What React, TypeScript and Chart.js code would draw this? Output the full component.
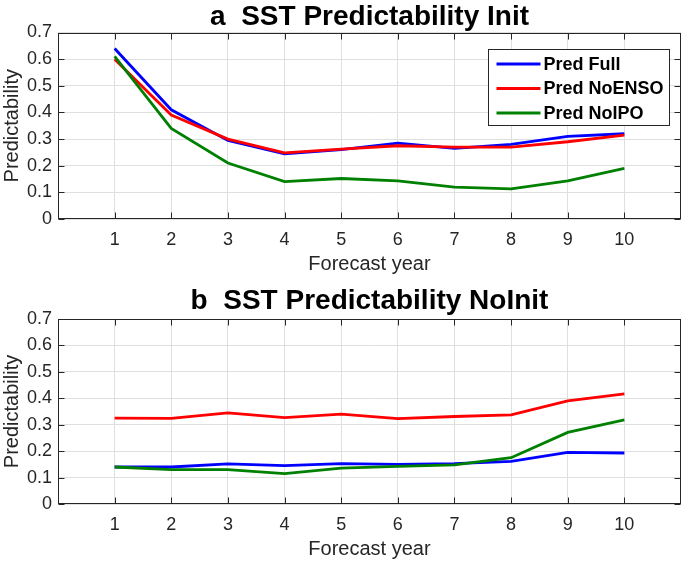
import React, { useEffect, useRef } from "react";
import { Chart, registerables } from "chart.js";

Chart.register(...registerables);

// ---- data ----
const years = [1, 2, 3, 4, 5, 6, 7, 8, 9, 10];
const yTickValues = [0, 0.1, 0.2, 0.3, 0.4, 0.5, 0.6, 0.7];
const seriesNames = ["Pred Full", "Pred NoENSO", "Pred NoIPO"];

const initFull = [0.64, 0.41, 0.295, 0.245, 0.26, 0.285, 0.265, 0.28, 0.31, 0.32];
const initNoENSO = [0.6, 0.39, 0.3, 0.248, 0.262, 0.275, 0.27, 0.27, 0.29, 0.315];
const initNoIPO = [0.61, 0.34, 0.21, 0.14, 0.152, 0.143, 0.12, 0.113, 0.143, 0.19];

const noInitFull = [0.14, 0.14, 0.152, 0.145, 0.153, 0.15, 0.153, 0.161, 0.195, 0.193];
const noInitNoENSO = [0.325, 0.324, 0.345, 0.327, 0.34, 0.323, 0.331, 0.337, 0.39, 0.417];
const noInitNoIPO = [0.14, 0.13, 0.13, 0.115, 0.136, 0.142, 0.148, 0.175, 0.271, 0.318];

const titleA = "a  SST Predictability Init";
const titleB = "b  SST Predictability NoInit";
const xTitle = "Forecast year";
const yTitle = "Predictability";

// ---- styles ----
const FONT = "'Liberation Sans', Arial, Helvetica, sans-serif";
const AXIS = "#262626";
const GRID = "#dfdfdf";
const COLORS = ["#0000ff", "#ff0000", "#008000"];
const LINE_W = 2.8;

const frameTicks = {
  id: "frameTicks",
  afterDraw(chart: any) {
    const { ctx, chartArea: a, scales } = chart;
    const L = Math.round(a.left) + 0.5;
    const R = Math.round(a.right) - 0.5;
    const T = Math.round(a.top) + 0.5;
    const B = Math.round(a.bottom) - 0.5;
    const tl = 6;
    ctx.save();
    ctx.strokeStyle = AXIS;
    ctx.lineWidth = 1;
    ctx.beginPath();
    for (const t of scales.x.ticks) {
      const px = Math.round(scales.x.getPixelForValue(t.value)) + 0.5;
      ctx.moveTo(px, B);
      ctx.lineTo(px, B - tl);
      ctx.moveTo(px, T);
      ctx.lineTo(px, T + tl);
    }
    for (const t of scales.y.ticks) {
      const py = Math.round(scales.y.getPixelForValue(t.value)) + 0.5;
      ctx.moveTo(L, py);
      ctx.lineTo(L + tl, py);
      ctx.moveTo(R, py);
      ctx.lineTo(R - tl, py);
    }
    ctx.stroke();
    ctx.strokeRect(L, T, R - L, B - T);
    ctx.restore();
  },
};

const boxLegend = {
  id: "boxLegend",
  afterDatasetsDraw(chart: any, _args: any, opts: any) {
    if (!opts || !opts.show) return;
    const { ctx, chartArea: a } = chart;
    const w = 181;
    const h = 76;
    const left = Math.round(a.right - 12 - w) + 0.5;
    const top = Math.round(a.top + 16) + 0.5;
    ctx.save();
    ctx.fillStyle = "#ffffff";
    ctx.fillRect(left, top, w, h);
    ctx.strokeStyle = AXIS;
    ctx.lineWidth = 1;
    ctx.strokeRect(left, top, w, h);
    ctx.font = `bold 18px ${FONT}`;
    ctx.textBaseline = "middle";
    ctx.textAlign = "left";
    chart.data.datasets.forEach((ds: any, i: number) => {
      const y = top + 14.5 + i * 24.5;
      ctx.strokeStyle = ds.borderColor;
      ctx.lineWidth = 3;
      ctx.beginPath();
      ctx.moveTo(left + 8, y);
      ctx.lineTo(left + 52, y);
      ctx.stroke();
      ctx.fillStyle = "#000000";
      ctx.fillText(ds.label, left + 55, y + 1);
    });
    ctx.restore();
  },
};

function makeConfig(title: string, series: number[][], titlePad: any, bottomPad: number, showLegend: boolean): any {
  return {
    type: "line",
    data: {
      datasets: series.map((vals, i) => ({
        label: seriesNames[i],
        data: years.map((yr, j) => ({ x: yr, y: vals[j] })),
        borderColor: COLORS[i],
        backgroundColor: COLORS[i],
        borderWidth: LINE_W,
        pointRadius: 0,
        tension: 0,
        fill: false,
        order: 3 - i,
      })),
    },
    options: {
      responsive: false,
      animation: false,
      layout: { padding: { left: 0, right: 4, top: 0, bottom: bottomPad } },
      plugins: {
        legend: { display: false },
        tooltip: { enabled: false },
        title: {
          display: true,
          text: title,
          fullSize: false,
          color: "#000000",
          font: { family: FONT, size: 28, weight: "bold", lineHeight: 1 },
          padding: titlePad,
        },
        boxLegend: { show: showLegend },
      },
      scales: {
        x: {
          type: "linear",
          min: 0,
          max: 11,
          afterBuildTicks: (s: any) => {
            s.ticks = years.map((v) => ({ value: v }));
          },
          ticks: {
            color: AXIS,
            padding: 10,
            font: { family: FONT, size: 18 },
            maxRotation: 0,
            autoSkip: false,
          },
          grid: { color: GRID, drawTicks: false },
          border: { display: false },
          title: {
            display: true,
            text: xTitle,
            color: AXIS,
            font: { family: FONT, size: 20 },
            padding: { top: -8, bottom: 0 },
          },
        },
        y: {
          type: "linear",
          min: 0,
          max: 0.7,
          afterBuildTicks: (s: any) => {
            s.ticks = yTickValues.map((v) => ({ value: v }));
          },
          afterFit: (s: any) => {
            s.width = 58;
          },
          ticks: {
            color: AXIS,
            padding: 6,
            font: { family: FONT, size: 18 },
            callback: (v: any) => String(Number(Number(v).toFixed(1))),
          },
          grid: { color: GRID, drawTicks: false },
          border: { display: false },
          title: {
            display: true,
            text: yTitle,
            color: AXIS,
            font: { family: FONT, size: 20 },
            padding: { top: 0, bottom: 0 },
          },
        },
      },
    },
    plugins: [frameTicks, boxLegend],
  };
}

export default function App() {
  const ref1 = useRef<HTMLCanvasElement>(null);
  const ref2 = useRef<HTMLCanvasElement>(null);

  useEffect(() => {
    const c1 = new Chart(
      ref1.current as HTMLCanvasElement,
      makeConfig(titleA, [initFull, initNoENSO, initNoIPO], { top: 3.5, bottom: 1 }, 5.4, true)
    );
    const c2 = new Chart(
      ref2.current as HTMLCanvasElement,
      makeConfig(titleB, [noInitFull, noInitNoENSO, noInitNoIPO], { top: 5, bottom: 4 }, 2.4, false)
    );
    return () => {
      c1.destroy();
      c2.destroy();
    };
  }, []);

  return (
    <div style={{ position: "fixed", left: 0, top: 0, width: 685, height: 564, background: "#ffffff" }}>
      <canvas ref={ref1} width={685} height={282} style={{ position: "absolute", left: 0, top: 0 }} />
      <canvas ref={ref2} width={685} height={282} style={{ position: "absolute", left: 0, top: 282 }} />
    </div>
  );
}
